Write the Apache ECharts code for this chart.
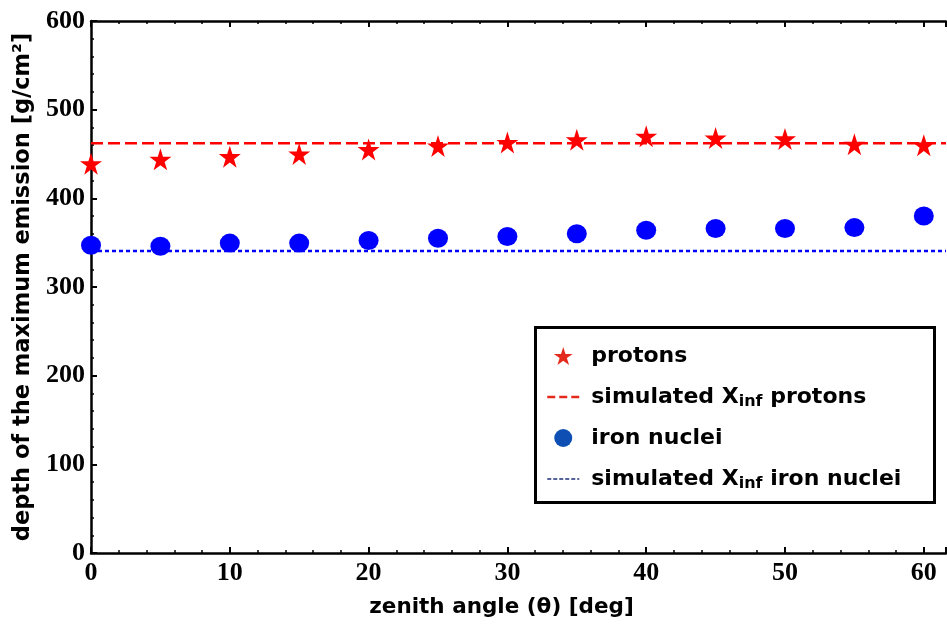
<!DOCTYPE html>
<html>
<head>
<meta charset="utf-8">
<script src="https://cdn.jsdelivr.net/npm/echarts@6/dist/echarts.min.js"></script>
<style>
html,body{margin:0;padding:0;background:#fff;}
#main{width:947px;height:628px;}
</style>
</head>
<body>
<div id="main"></div>
<script>
// ---- data ----
const zenithAngles = [0, 5, 10, 15, 20, 25, 30, 35, 40, 45, 50, 55, 60];
const protonDepth = [439, 444, 447, 450, 455, 459, 463, 466, 470, 468, 467, 461, 460];
const ironDepth = [347, 346, 349.5, 349.5, 352.5, 355, 357, 360, 364, 366, 366, 367, 380];
const simulatedProtonXinf = 462;
const simulatedIronXinf = 340.5;
const xTickLabels = ['0', '10', '20', '30', '40', '50', '60'];
const yTickLabels = ['0', '100', '200', '300', '400', '500', '600'];
const seriesNames = ['protons', 'simulated Xinf protons', 'iron nuclei', 'simulated Xinf iron nuclei'];

const X_MIN = 0, X_MAX = 61.6, Y_MIN = 0, Y_MAX = 600;

const STAR = 'path://M0,-10 L2.245,-3.09 L9.511,-3.09 L3.633,1.18 L5.878,8.09 L0,3.82 L-5.878,8.09 L-3.633,1.18 L-9.511,-3.09 L-2.245,-3.09 Z';

const chart = echarts.init(document.getElementById('main'), null, {renderer: 'canvas'});

const axisLabelFont = {fontFamily: 'Liberation Serif', fontWeight: 'bold', fontSize: 26, color: '#000'};
const axisLineStyle = {color: '#000', width: 2.5};
const sansBold = {fontFamily: 'DejaVu Sans', fontWeight: 'bold', color: '#000'};

const option = {
  backgroundColor: '#fff',
  animation: false,
  grid: {left: 91, top: 21, right: 1, bottom: 75, containLabel: false},
  xAxis: [{
    type: 'value', min: X_MIN, max: X_MAX, interval: 10,
    name: 'zenith angle (θ) [deg]', nameLocation: 'middle', nameGap: 43,
    nameTextStyle: {...sansBold, fontSize: 21.5, padding: [0, 34, 0, 0]},
    axisLine: {show: true, onZero: false, lineStyle: axisLineStyle},
    axisTick: {show: true, inside: true, length: 6, lineStyle: {color: '#000', width: 2}},
    minorTick: {show: true, splitNumber: 5, length: 3, lineStyle: {color: '#000', width: 1.5}},
    splitLine: {show: false},
    axisLabel: {
      margin: 7, showMaxLabel: false, ...axisLabelFont,
      formatter: v => xTickLabels.indexOf(String(v)) >= 0 ? String(v) : ''
    }
  }, {
    type: 'value', position: 'top', min: X_MIN, max: X_MAX, interval: 10,
    axisLine: {show: true, onZero: false, lineStyle: axisLineStyle},
    axisTick: {show: true, inside: true, length: 6, lineStyle: {color: '#000', width: 2}},
    minorTick: {show: true, splitNumber: 5, length: 3, lineStyle: {color: '#000', width: 1.5}},
    splitLine: {show: false},
    axisLabel: {show: false}
  }],
  yAxis: {
    type: 'value', min: Y_MIN, max: Y_MAX, interval: 100,
    name: 'depth of the maximum emission [g/cm²]', nameLocation: 'middle', nameGap: 56,
    nameTextStyle: {...sansBold, fontSize: 22.5},
    axisLine: {show: true, onZero: false, lineStyle: axisLineStyle},
    axisTick: {show: true, inside: true, length: 6, lineStyle: {color: '#000', width: 2}},
    minorTick: {show: true, splitNumber: 5, length: 3, lineStyle: {color: '#000', width: 1.5}},
    splitLine: {show: false},
    axisLabel: {
      margin: 6, ...axisLabelFont,
      formatter: v => yTickLabels.indexOf(String(v)) >= 0 ? String(v) : ''
    }
  },
  legend: {
    orient: 'vertical', left: 546, top: 345, padding: 0,
    itemWidth: 32, itemHeight: 18, itemGap: 17,
    selectedMode: false,
    symbolKeepAspect: true,
    formatter: function (name) {
      if (name.indexOf('Xinf') >= 0) {
        const parts = name.split('Xinf');
        return '{a|' + parts[0] + 'X}{s|inf}{a|' + parts[1] + '}';
      }
      return '{a|' + name + '}';
    },
    textStyle: {
      padding: [0, 0, 0, 7],
      rich: {
        a: {...sansBold, fontSize: 22, lineHeight: 20},
        s: {...sansBold, fontSize: 16, lineHeight: 20, padding: [10, 0, 0, 0]}
      }
    },
    data: [
      {name: seriesNames[0], icon: STAR, itemStyle: {color: '#e32a1c'}},
      {name: seriesNames[1], itemStyle: {opacity: 0}, lineStyle: {color: '#e32a1c', type: [8, 4], width: 2.5, opacity: 1}},
      {name: seriesNames[2], icon: 'circle', itemStyle: {color: '#0d4fb3'}},
      {name: seriesNames[3], itemStyle: {opacity: 0}, lineStyle: {color: '#1f2f7a', type: [4, 2], width: 1.3, opacity: 1}}
    ]
  },
  graphic: [{
    type: 'rect', left: 533, top: 325, z: 100, silent: true,
    shape: {width: 399, height: 175},
    style: {fill: 'none', stroke: '#000', lineWidth: 3}
  }],
  series: [
    {
      name: seriesNames[1], type: 'line', symbol: 'none', z: 2,
      data: [[X_MIN, simulatedProtonXinf], [X_MAX, simulatedProtonXinf]],
      lineStyle: {color: '#ff0000', type: [12, 5], width: 2.5},
      itemStyle: {color: '#ff0000'}
    },
    {
      name: seriesNames[3], type: 'line', symbol: 'none', z: 2,
      data: [[X_MIN, simulatedIronXinf], [X_MAX, simulatedIronXinf]],
      lineStyle: {color: '#0000ff', type: [4, 3], width: 2.5},
      itemStyle: {color: '#0000ff'}
    },
    {
      name: seriesNames[0], type: 'scatter', symbol: STAR, symbolSize: 22, z: 3,
      data: zenithAngles.map((x, i) => [x, protonDepth[i]]),
      itemStyle: {color: '#ff0000', opacity: 1}
    },
    {
      name: seriesNames[2], type: 'scatter', symbol: 'circle', symbolSize: [20, 19], z: 3,
      data: zenithAngles.map((x, i) => [x, ironDepth[i]]),
      itemStyle: {color: '#0000ff', opacity: 1}
    }
  ]
};
chart.setOption(option);
</script>
</body>
</html>
